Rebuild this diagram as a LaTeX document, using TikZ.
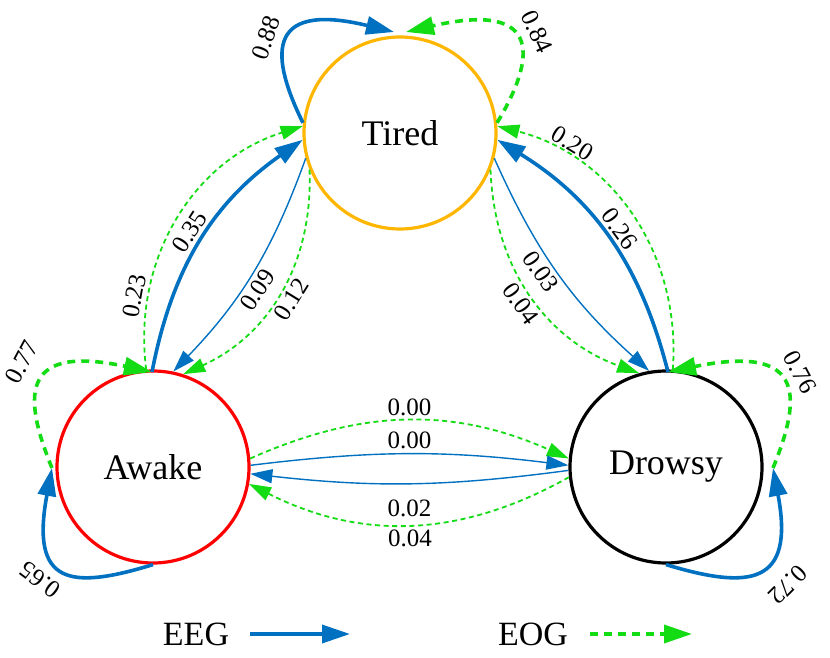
\documentclass[tikz,border=0pt]{standalone}
\usepackage{fontspec}
\setmainfont{Liberation Serif}
\usetikzlibrary{arrows.meta}
\definecolor{eegblue}{RGB}{0,112,192}
\definecolor{eoggreen}{RGB}{20,220,20}
\tikzset{
  state/.style={circle,line width=1.6pt,minimum size=96pt,inner sep=0pt,font=\fontsize{18}{20}\selectfont},
  eeg/.style={draw=eegblue,line width=0.7pt,-{Triangle[length=11pt,width=7pt]}},
  eegthick/.style={eeg,line width=1.8pt,-{Triangle[length=14pt,width=9pt]}},
  eog/.style={draw=eoggreen,line width=0.9pt,dash pattern=on 2.5pt off 1.8pt,-{Triangle[length=11pt,width=7pt]}},
  eogthick/.style={eog,line width=1.8pt,dash pattern=on 4pt off 3pt,-{Triangle[length=14pt,width=9pt]}},
  prob/.style={font=\fontsize{12.5}{14}\selectfont,inner sep=2pt},
  legend/.style={font=\fontsize{17}{19}\selectfont}
}
\begin{document}
\begin{tikzpicture}[x=0.5pt,y=-0.5pt]
\useasboundingbox (0,0) rectangle (830,658);

\node[state,draw={rgb,255:red,255;green,182;blue,0}] (tired) at (400,133) {Tired};
\node[state,draw=red] (awake) at (153,467) {Awake};
\node[state,draw=black] (drowsy) at (666,467) {Drowsy};

% self loops
\coordinate (tiredtopl) at (394,32);
\coordinate (tiredtopr) at (406,32);
\coordinate (awakeleft) at (52,468);
\coordinate (drowsyright) at (773,468);
\coordinate (awaketop) at (152,372);
\coordinate (drowsytop) at (668,372);
\draw[eegthick] (tired.174) .. controls (272,60) and (262,0) .. (tiredtopl);
\draw[eogthick] (tired.6) .. controls (535,60) and (545,0) .. (tiredtopr);
\draw[eegthick] (awake.270) .. controls (70,590) and (30,585) .. (awakeleft);
\draw[eogthick] (awakeleft) .. controls (20,390) and (25,345) .. (awaketop);
\draw[eegthick] (drowsy.270) .. controls (750,590) and (795,585) .. (drowsyright);
\draw[eogthick] (drowsyright) .. controls (805,390) and (800,345) .. (drowsytop);
\node[prob,rotate=70] (p88) at (266,38) {0.88};
\node[prob,rotate=-65] (p84) at (537,32) {0.84};
\node[prob,rotate=62] (p77) at (22,362) {0.77};
\node[prob,rotate=-62] (p76) at (800,372) {0.76};
\node[prob,rotate=143] (p65) at (40,580) {0.65};
\node[prob,rotate=225] (p72) at (788,585) {0.72};

% awake - tired
\draw[eegthick] (awaketop) to[bend left=22] node[prob,sloped,above,pos=0.5] {0.35} (tired.184);
\draw[eeg] (tired.195) to[bend left=12] node[prob,sloped,below,pos=0.55] {0.09} (awake.78);
\draw[eog] (awake.94) to[bend left=40] node[prob,sloped,above,pos=0.22] {0.23} (tired.176);
\draw[eog] (tired.202) to[bend left=34] node[prob,sloped,below,pos=0.5] {0.12} (awake.72);

% tired - drowsy
\draw[eegthick] (drowsytop) to[bend right=22] node[prob,sloped,above,pos=0.5] {0.26} (tired.356);
\draw[eeg] (tired.345) to[bend right=12] node[prob,sloped,below,pos=0.45] {0.03} (drowsy.100);
\draw[eog] (drowsy.86) to[bend right=40] node[prob,sloped,above,pos=0.78] {0.20} (tired.4);
\draw[eog] (tired.338) to[bend right=34] node[prob,sloped,below,pos=0.5] {0.04} (drowsy.106);

% awake - drowsy
\draw[eog] (awake.5) to[bend left=24] node[prob,above] {0.00} (drowsy.175);
\draw[eeg] (awake.1) to[bend left=7] node[prob,above] {0.00} (drowsy.179);
\draw[eeg] (drowsy.182) to[bend left=7] node[prob,below,yshift=-6pt] {0.02} (awake.356);
\draw[eog] (drowsy.186) to[bend left=28] node[prob,below] {0.04} (awake.350);

% legend
\node[legend] (eeglab) at (196,634) {EEG};
\coordinate (eegstart) at (250,634);
\coordinate (eegend) at (350,634);
\draw[eegthick] (eegstart) -- (eegend);
\node[legend] (eoglab) at (533,634) {EOG};
\coordinate (eogstart) at (590,634);
\coordinate (eogend) at (692,634);
\draw[eogthick] (eogstart) -- (eogend);
\end{tikzpicture}
\end{document}
